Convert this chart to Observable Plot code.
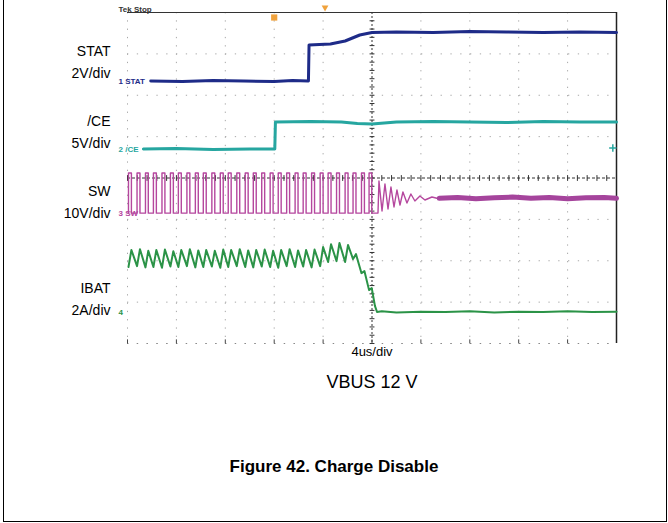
<!DOCTYPE html>
<html>
<head>
<meta charset="utf-8">
<script src="https://cdn.jsdelivr.net/npm/d3@7"></script>
<script src="https://cdn.jsdelivr.net/npm/@observablehq/plot@0.6"></script>
<style>
  body { margin: 0; background: #fff; }
  #page { position: relative; width: 668px; height: 523px; font-family: "Liberation Sans", Arial, sans-serif; color: #000; overflow: hidden; }
  .edge { position: absolute; background: #000; }
  #chart { position: absolute; left: 0; top: 0; }
  #vbus { position: absolute; left: 222px; width: 300px; top: 373px; text-align: center; font-size: 18px; line-height: 18px; }
  #caption { position: absolute; left: 134px; width: 400px; top: 458px; text-align: center; font-size: 17px; line-height: 17px; font-weight: bold; }
</style>
</head>
<body>
<div id="page">
  <div id="chart"></div>
  <div id="vbus"></div>
  <div id="caption"></div>
  <div class="edge" style="left:3px;top:0;width:1px;height:522px"></div>
  <div class="edge" style="left:666px;top:0;width:1px;height:522px"></div>
  <div class="edge" style="left:3px;top:521px;width:664px;height:1px"></div>
</div>
<script>
// ---------- text ----------
const xLabel = "4us/div";
const subtitle = "VBUS 12 V";
const caption = "Figure 42. Charge Disable";
const scopeStatus = "Tek Stop";

// ---------- channels (levels in screen divisions, time in µs) ----------
const channelNames = ["STAT", "/CE", "SW", "IBAT"];
const channelLabels = ["STAT\n2V/div", "/CE\n5V/div", "SW\n10V/div", "IBAT\n2A/div"];
const channelMarkers = ["1 STAT", "2 /CE", "3 SW", "4"];
const channelGround = [2.344, 0.701, -0.846, -3.238];

// STAT
const statT = [-18.1, -15.5, -13, -10.5, -8, -6.5, -5.2, -5.15, -4.3, -3.4, -2.2, -1.0, 0, 2, 5, 8, 11, 14, 17, 20];
const statY = [2.344, 2.332, 2.356, 2.344, 2.332, 2.356, 2.344, 3.215, 3.227, 3.239, 3.311, 3.456, 3.517, 3.529, 3.517, 3.541, 3.529, 3.517, 3.529, 3.517];

// /CE
const ceT = [-18.7, -16, -13, -10, -7.95, -7.9, -5, -2.5, -1.2, 0, 2, 5, 8, 11, 14, 17, 20];
const ceY = [0.701, 0.713, 0.689, 0.701, 0.701, 1.353, 1.365, 1.353, 1.317, 1.305, 1.353, 1.365, 1.353, 1.341, 1.365, 1.353, 1.353];

// SW switching edges
const swHigh = 0.12, swLow = -0.85;
const swRise = [-19.92, -19.22, -18.53, -17.88, -17.18, -16.49, -15.84, -15.14, -14.45, -13.80, -13.10, -12.41, -11.76, -11.06, -10.37, -9.71, -9.02, -8.33, -7.67, -6.98, -6.29, -5.63, -4.94, -4.24, -3.59, -2.90, -2.20, -1.55, -0.86, -0.24];
const swFall = [-19.68, -18.98, -18.30, -17.64, -16.94, -16.25, -15.60, -14.90, -14.21, -13.56, -12.86, -12.17, -11.52, -10.82, -10.13, -9.47, -8.78, -8.09, -7.43, -6.74, -6.05, -5.39, -4.70, -4.00, -3.35, -2.66, -1.96, -1.31, -0.62, -0.02];
// SW ringing after disable
const swTailT = [0.49, 0.57, 0.82, 1.06, 1.31, 1.55, 1.80, 2.04, 2.29, 2.53, 2.86, 3.18, 3.51, 3.92, 4.33, 4.90, 5.55];
const swTailY = [-0.846, -0.073, -0.798, -0.145, -0.749, -0.218, -0.701, -0.290, -0.653, -0.338, -0.604, -0.387, -0.556, -0.435, -0.532, -0.459, -0.508];
// SW settled
const swSettleT = [5.5, 7, 8.5, 10, 11.5, 13, 14.5, 16, 17.5, 19, 20];
const swSettleY = [-0.49, -0.47, -0.50, -0.48, -0.46, -0.49, -0.47, -0.50, -0.48, -0.47, -0.49];

// IBAT ripple: valley at each SW rise, peak at each SW fall
const ibatValley = [-2.15, -2.13, -2.16, -2.15, -2.17, -2.14, -2.15, -2.13, -2.16, -2.15, -2.14, -2.17, -2.15, -2.13, -2.15, -2.16, -2.14, -2.15, -2.17, -2.13, -2.15, -2.14, -2.16, -2.13, -2.03, -2.01, -2.03, -1.96, -2.30, -2.71];
const ibatPeak = [-1.74, -1.72, -1.76, -1.74, -1.73, -1.77, -1.74, -1.72, -1.75, -1.74, -1.76, -1.73, -1.74, -1.72, -1.75, -1.74, -1.73, -1.76, -1.74, -1.72, -1.75, -1.74, -1.73, -1.67, -1.60, -1.57, -1.62, -1.84, -2.25, -2.66];
const ibatTailT = [0.24, 0.41, 0.8, 2, 4, 6, 8, 10, 12, 14, 16, 18, 20];
const ibatTailY = [-3.09, -3.24, -3.22, -3.25, -3.23, -3.24, -3.22, -3.25, -3.23, -3.24, -3.22, -3.24, -3.23];

// trigger
const triggerT = -8.0;
const hposT = -3.84;
const trigLevel = 1.04;

// ---------- build tables ----------
const stat = statT.map((t, i) => ({t, v: statY[i]}));
const ce = ceT.map((t, i) => ({t, v: ceY[i]}));
const sw = [];
swRise.forEach((r, i) => {
  sw.push({t: r, v: swLow}, {t: r, v: swHigh}, {t: swFall[i], v: swHigh}, {t: swFall[i], v: swLow});
});
swTailT.forEach((t, i) => sw.push({t, v: swTailY[i]}));
const swSettle = swSettleT.map((t, i) => ({t, v: swSettleY[i]}));
const ibat = [];
swRise.forEach((r, i) => {
  ibat.push({t: r, v: ibatValley[i]}, {t: swFall[i], v: ibatPeak[i]});
});
ibatTailT.forEach((t, i) => ibat.push({t, v: ibatTailY[i]}));
const chans = channelNames.map((name, i) => ({name, label: channelLabels[i], marker: channelMarkers[i], ground: channelGround[i]}));

// graticule positions
const majorX = d3.range(-20, 20, 4).filter(d => d !== 0);
const majorY = d3.range(-4, 4, 1).filter(d => d !== 0);
const minorX = d3.range(-20, 20.001, 0.8);
const minorY = d3.range(-4, 4.001, 0.2);

const colors = {STAT: "#1e2b88", "/CE": "#26a6a0", SW: "#b5479e", IBAT: "#2b9347"};
const labelShift = {STAT: -21, "/CE": -19, SW: -13, IBAT: -15};

const chart = Plot.plot({
  width: 668,
  height: 368,
  marginLeft: 127,
  marginRight: 52,
  marginTop: 12,
  marginBottom: 25,
  x: {domain: [-20, 20], axis: null},
  y: {domain: [-4, 4], axis: null},
  color: {domain: channelNames, range: channelNames.map(n => colors[n])},
  style: {fontFamily: "'Liberation Sans', Arial, sans-serif", background: "transparent", overflow: "visible"},
  marks: [
    // graticule
    Plot.ruleX(majorX, {stroke: "#a8a8a8", strokeWidth: 1, strokeDasharray: "1.3,7"}),
    Plot.ruleY(majorY, {stroke: "#a8a8a8", strokeWidth: 1, strokeDasharray: "1.3,8.5"}),
    Plot.ruleY([-4], {stroke: "#888", strokeWidth: 1, strokeDasharray: "1.3,8.5"}),
    Plot.ruleX([0], {stroke: "#333", strokeWidth: 1, strokeDasharray: "2,2"}),
    Plot.ruleY([0], {stroke: "#333", strokeWidth: 1, strokeDasharray: "3,2"}),
    Plot.link(minorX, {x1: d => d, x2: d => d, y1: -0.07, y2: 0.07, stroke: "#333", strokeWidth: 1}),
    Plot.link(minorY, {y1: d => d, y2: d => d, x1: -0.2, x2: 0.2, stroke: "#333", strokeWidth: 1}),
    Plot.link(majorX.concat([0]), {x1: d => d, x2: d => d, y1: -4, y2: -3.9, stroke: "#444", strokeWidth: 1}),
    Plot.ruleY([4], {x1: -20, x2: 20, stroke: "#333", strokeWidth: 1.2}),
    Plot.ruleX([20], {y1: -4, y2: 4, stroke: "#222", strokeWidth: 1.5}),
    // traces
    Plot.line(stat, {x: "t", y: "v", stroke: colors.STAT, strokeWidth: 3}),
    Plot.line(ce, {x: "t", y: "v", stroke: colors["/CE"], strokeWidth: 3}),
    Plot.line(sw, {x: "t", y: "v", stroke: colors.SW, strokeWidth: 1.4}),
    Plot.line(swSettle, {x: "t", y: "v", stroke: "#a5449c", strokeWidth: 5}),
    Plot.line(ibat, {x: "t", y: "v", stroke: colors.IBAT, strokeWidth: 2}),
    // channel ground markers
    Plot.text(chans, {frameAnchor: "left", y: "ground", text: "marker", fill: "name", dx: -9, textAnchor: "start", fontSize: 8, fontWeight: "bold"}),
    // channel labels (one mark per channel for its own vertical offset)
    ...chans.map(c => Plot.text([c], {frameAnchor: "left", y: "ground", text: "label", dx: -17, dy: labelShift[c.name], textAnchor: "end", fontSize: 14, lineHeight: 1.57, fill: "#000"})),
    // trigger markers
    Plot.dot([triggerT], {x: d => d, y: 4, dy: 5, r: 3.5, symbol: "square", fill: "#f0a23c"}),
    Plot.dot([hposT], {x: d => d, y: 4, dy: -5, r: 2.5, symbol: "triangle", fill: "#f0a23c", rotate: 180}),
    Plot.dot([trigLevel], {x: 19.7, y: d => d, dy: 13, r: 2.5, symbol: "plus", stroke: colors["/CE"]}),
    // scope status
    Plot.text([scopeStatus], {frameAnchor: "top-left", dx: -9, dy: -6, textAnchor: "start", fontSize: 8, fontWeight: "bold", fill: "#333"}),
    // x label
    Plot.text([xLabel], {frameAnchor: "bottom", dy: 12, fontSize: 13, fill: "#000"})
  ]
});
document.getElementById("chart").appendChild(chart);
document.getElementById("vbus").textContent = subtitle;
document.getElementById("caption").textContent = caption;
</script>
</body>
</html>
